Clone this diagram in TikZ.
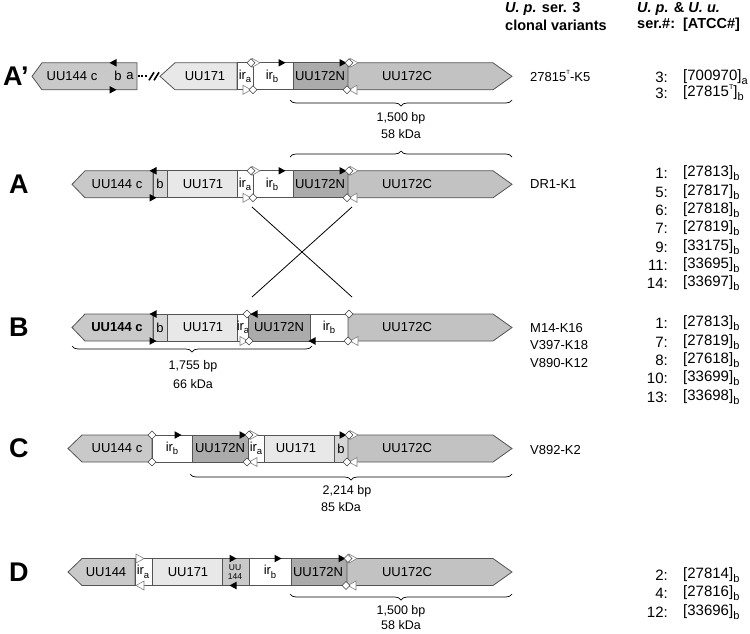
\documentclass[tikz,border=0pt]{standalone}
\usepackage{fontspec}
\setmainfont{Liberation Sans}
\usetikzlibrary{decorations.pathreplacing}
\definecolor{gA}{gray}{0.79}
\definecolor{gB}{gray}{0.84}
\definecolor{gS}{gray}{0.91}
\definecolor{gN}{gray}{0.67}
\definecolor{gC}{gray}{0.76}
\definecolor{edgec}{gray}{0.33}
\newcommand\sbs[1]{\raisebox{-0.5ex}{\fontsize{9.5}{9.5}\selectfont #1}}
\newcommand\sps[1]{\raisebox{0.9ex}{\fontsize{6}{6}\selectfont #1}}
\newcommand\sbl[1]{\raisebox{-0.5ex}{\fontsize{11}{11}\selectfont #1}}
\newcommand\spl[1]{\raisebox{0.9ex}{\fontsize{7}{7}\selectfont #1}}
\tikzset{
  gbox/.style={draw=edgec, line width=0.8pt},
  lbl/.style={inner sep=0pt, font=\fontsize{13}{13}\selectfont},
  rowlet/.style={anchor=west, inner sep=0pt, font=\fontsize{27}{27}\selectfont\bfseries},
  txt/.style={inner sep=0pt, font=\fontsize{12.5}{12.5}\selectfont},
  vtxt/.style={anchor=west, inner sep=0pt, font=\fontsize{13}{13}\selectfont},
  atxt/.style={inner sep=0pt, font=\fontsize{15}{15}\selectfont},
  hdr/.style={anchor=west, inner sep=0pt, font=\fontsize{14.5}{14.5}\selectfont\bfseries},
  brc/.style={decorate, decoration={brace, amplitude=6pt}, line width=0.7pt},
  btri/.pic={\fill[black] (-3.5,-3.8) -- (3.5,0) -- (-3.5,3.8) -- cycle;},
  otri/.pic={\filldraw[fill=white, draw=gray, line width=0.6pt] (-4,-4.5) -- (4,0) -- (-4,4.5) -- cycle;},
  odia/.pic={\filldraw[fill=white, draw=black!75, line width=0.6pt] (-4,0) -- (0,-4) -- (4,0) -- (0,4) -- cycle;},
}
% left-pointing gene: tip, body, right, fill
\newcommand\larr[4]{\path[gbox,fill=#4] (#1,0) -- (#2,-13.5) -- (#3,-13.5) -- (#3,13.5) -- (#2,13.5) -- cycle;}
% right-pointing gene UU172C from left edge
\newcommand\rarr[2]{\path[gbox,fill=#2] (#1,-13.5) -- (493,-13.5) -- (512,0) -- (493,13.5) -- (#1,13.5) -- cycle;}
\newcommand\bx[3]{\path[gbox,fill=#3] (#1,-13.5) rectangle (#2,13.5);}
% standard marker groups
\newcommand\grpTop[1]{\pic at (#1-5,-13.5) {btri}; \pic at (#1+6,-13.5) {otri}; \pic at (#1+1,-13.5) {odia};}
\newcommand\grpBot[1]{\pic[xscale=-1] at (#1+6,13.5) {otri}; \pic at (#1,13.5) {odia};}

\begin{document}
\begin{tikzpicture}[x=1pt,y=-1pt]
\useasboundingbox (0,0) rectangle (750,633);

% ---------- headers ----------
\node[hdr] (h1a) at (505,9) {\textit{U. p.} ser. 3};
\node[hdr] (h1b) at (505,25) {clonal variants};
\node[hdr] (h2a) at (637,9) {\textit{U. p.} \& \textit{U. u.}};
\node[hdr] (h2b) at (637,25) {ser.\#:\ \ [ATCC\#]};

% ---------- row A' ----------
\node[rowlet] (LAp) at (3,76) {A’};
\begin{scope}[shift={(0,76.3)}]
  \larr{32}{42}{137}{gA}
  \node[lbl] (ap144) at (72,0) {UU144 c};
  \node[lbl] (apb) at (118,0) {b};
  \node[lbl] (apa) at (130,0) {a};
  \coordinate (apd1) at (138,0); \coordinate (apd2) at (148,0);
  \draw[line width=1.8pt, dash pattern=on 1.8pt off 1.6pt] (apd1) -- (apd2);
  \draw[line width=1.6pt] (149,4) -- (154,-4) (154,4) -- (159,-4);
  \larr{160}{175}{237}{gS}
  \node[lbl] (ap171) at (205,0) {UU171};
  \bx{237}{253}{white}
  \node[lbl] (apira) at (245,0) {ir\sbs{a}};
  \bx{253}{293}{white}
  \node[lbl] (apirb) at (272,0) {ir\sbs{b}};
  \bx{293}{348}{gN}
  \node[lbl] (ap172N) at (320,0) {UU172N};
  \rarr{348}{gC}
  \node[lbl] (ap172C) at (407,0) {UU172C};
  \pic[xscale=-1] at (113,-13.5) {btri};
  \pic at (113,13.5) {btri};
  \pic at (256,-13.5) {otri}; \pic at (251,-13.5) {odia};
  \pic at (247,13.5) {otri}; \pic at (253,13.5) {odia};
  \pic at (282,-13.5) {btri};
  \grpTop{348} \grpBot{347}
\end{scope}
\draw[brc] (512,100) -- (290,100);
\node[txt] (t1500a) at (401,118) {1,500 bp};
\node[txt] (t58a) at (401,134) {58 kDa};
\draw[brc] (290,157) -- (512,157);
\node[vtxt] (vAp) at (530,76) {27815\sps{T}-K5};
\node[atxt,anchor=east] (nAp1) at (668,77) {3:};
\node[atxt,anchor=west] (sAp1) at (683,77) {[700970]\sbl{a}};
\node[atxt,anchor=east] (nAp2) at (668,93) {3:};
\node[atxt,anchor=west] (sAp2) at (683,93) {[27815\spl{T}]\sbl{b}};

% ---------- row A ----------
\node[rowlet] (LA) at (9,184) {A};
\begin{scope}[shift={(0,184.3)}]
  \larr{72}{85}{153}{gA}
  \node[lbl] (a144) at (117,0) {UU144 c};
  \bx{153}{167}{gB}
  \node[lbl] (ab) at (160,0) {b};
  \bx{167}{237}{gS}
  \node[lbl] (a171) at (203,0) {UU171};
  \bx{237}{253}{white}
  \node[lbl] (aira) at (245,0) {ir\sbs{a}};
  \bx{253}{293}{white}
  \node[lbl] (airb) at (272,0) {ir\sbs{b}};
  \bx{293}{348}{gN}
  \node[lbl] (a172N) at (320,0) {UU172N};
  \rarr{348}{gC}
  \node[lbl] (a172C) at (407,0) {UU172C};
  \pic[xscale=-1] at (153,-13.5) {btri};
  \pic at (153,13.5) {btri};
  \pic at (256,-13.5) {otri}; \pic at (251,-13.5) {odia};
  \pic at (247,13.5) {otri}; \pic at (253,13.5) {odia};
  \pic at (282,-13.5) {btri};
  \grpTop{348} \grpBot{347}
\end{scope}
\node[vtxt] (vA) at (530,184) {DR1-K1};
\foreach \n/\s/\y in {1/27813/173,5/27817/192,6/27818/210,7/27819/228,9/33175/247,11/33695/265,14/33697/283}{
  \node[atxt,anchor=east] (nA\n) at (668,\y) {\n:};
  \node[atxt,anchor=west] (sA\n) at (683,\y) {[\s]\sbl{b}};
}

% ---------- crossing ----------
\coordinate (xa1) at (252,207);
\coordinate (xa2) at (352,207);
\coordinate (xb1) at (252,297);
\coordinate (xb2) at (352,297);
\draw[line width=0.8pt] (xa1) -- (xb2);
\draw[line width=0.8pt] (xa2) -- (xb1);

% ---------- row B ----------
\node[rowlet] (LB) at (9,327) {B};
\begin{scope}[shift={(0,327.5)}]
  \larr{72}{85}{153}{gA}
  \node[lbl] (b144) at (117,0) {\textbf{UU144 c}};
  \bx{153}{167}{gB}
  \node[lbl] (bb) at (160,0) {b};
  \bx{167}{237}{gS}
  \node[lbl] (b171) at (203,0) {UU171};
  \bx{237}{248}{white}
  \node[lbl] (bira) at (243,0) {ir\sbs{a}};
  \bx{248}{310}{gN}
  \node[lbl] (b172N) at (279,0) {UU172N};
  \bx{310}{348}{white}
  \node[lbl] (birb) at (329,0) {ir\sbs{b}};
  \rarr{348}{gC}
  \node[lbl] (b172C) at (407,0) {UU172C};
  \pic[xscale=-1] at (153,-13.5) {btri};
  \pic at (153,13.5) {btri};
  \pic at (247,-13.5) {odia}; \pic[xscale=-1] at (254,-13.5) {btri};
  \pic at (244,13.5) {otri}; \pic at (249,13.5) {odia};
  \pic at (349,-13.5) {odia};
  \pic[xscale=-1] at (354,13.5) {otri}; \pic at (348,13.5) {odia};
  \pic[xscale=-1] at (312,13.5) {btri};
\end{scope}
\draw[brc] (312,346) -- (72,346);
\node[txt] (t1755) at (193,366) {1,755 bp};
\node[txt] (t66) at (193,384) {66 kDa};
\node[vtxt] (vB1) at (530,328) {M14-K16};
\node[vtxt] (vB2) at (530,345) {V397-K18};
\node[vtxt] (vB3) at (530,363) {V890-K12};
\foreach \n/\s/\y in {1/27813/323,7/27819/342,8/27618/360,10/33699/378,13/33698/397}{
  \node[atxt,anchor=east] (nB\n) at (668,\y) {\n:};
  \node[atxt,anchor=west] (sB\n) at (683,\y) {[\s]\sbl{b}};
}

% ---------- row C ----------
\node[rowlet] (LC) at (9,448) {C};
\begin{scope}[shift={(0,448.5)}]
  \larr{68}{82}{152}{gA}
  \node[lbl] (c144) at (117,0) {UU144 c};
  \bx{152}{192}{white}
  \node[lbl] (cirb) at (172,0) {ir\sbs{b}};
  \bx{192}{248}{gN}
  \node[lbl] (c172N) at (220,0) {UU172N};
  \bx{248}{264}{white}
  \node[lbl] (cira) at (256,0) {ir\sbs{a}};
  \bx{264}{334}{gS}
  \node[lbl] (c171) at (296,0) {UU171};
  \bx{334}{348}{gB}
  \node[lbl] (cb) at (341,0) {b};
  \rarr{348}{gC}
  \node[lbl] (c172C) at (407,0) {UU172C};
  \pic at (152,-13.5) {odia};
  \pic at (152,13.5) {odia};
  \pic at (178,-13.5) {btri};
  \grpTop{248} \grpBot{247}
  \grpTop{348} \grpBot{347}
\end{scope}
\draw[brc] (512,474) -- (190,474);
\node[txt] (t2214) at (347,491) {2,214 bp};
\node[txt] (t85) at (341,507) {85 kDa};
\node[vtxt] (vC) at (530,450) {V892-K2};

% ---------- row D ----------
\node[rowlet] (LD) at (9,572) {D};
\begin{scope}[shift={(0,572)}]
  \larr{68}{82}{135}{gA}
  \node[lbl] (d144) at (106,0) {UU144};
  \bx{135}{152}{white}
  \node[lbl] (dira) at (143,0) {ir\sbs{a}};
  \bx{152}{222}{gS}
  \node[lbl] (d171) at (188,0) {UU171};
  \bx{222}{249}{gA}
  \node[inner sep=0pt, align=center, font=\fontsize{8.5}{8.5}\selectfont] (d144b) at (235,0) {UU\\144};
  \bx{249}{291}{white}
  \node[lbl] (dirb) at (270,0) {ir\sbs{b}};
  \bx{291}{347}{gN}
  \node[lbl] (d172N) at (318,0) {UU172N};
  \rarr{347}{gC}
  \node[lbl] (d172C) at (407,0) {UU172C};
  \pic at (140,-13.5) {otri};
  \pic[xscale=-1] at (140,13.5) {otri};
  \pic at (233,-13.5) {btri};
  \pic[xscale=-1] at (233,13.5) {btri};
  \pic at (278,-13.5) {btri};
  \grpTop{347} \grpBot{346}
\end{scope}
\draw[brc] (512,594) -- (290,594);
\node[txt] (t1500d) at (401,611) {1,500 bp};
\node[txt] (t58d) at (401,625) {58 kDa};
\foreach \n/\s/\y in {2/27814/575,4/27816/593,12/33696/612}{
  \node[atxt,anchor=east] (nD\n) at (668,\y) {\n:};
  \node[atxt,anchor=west] (sD\n) at (683,\y) {[\s]\sbl{b}};
}
\end{tikzpicture}
\end{document}
